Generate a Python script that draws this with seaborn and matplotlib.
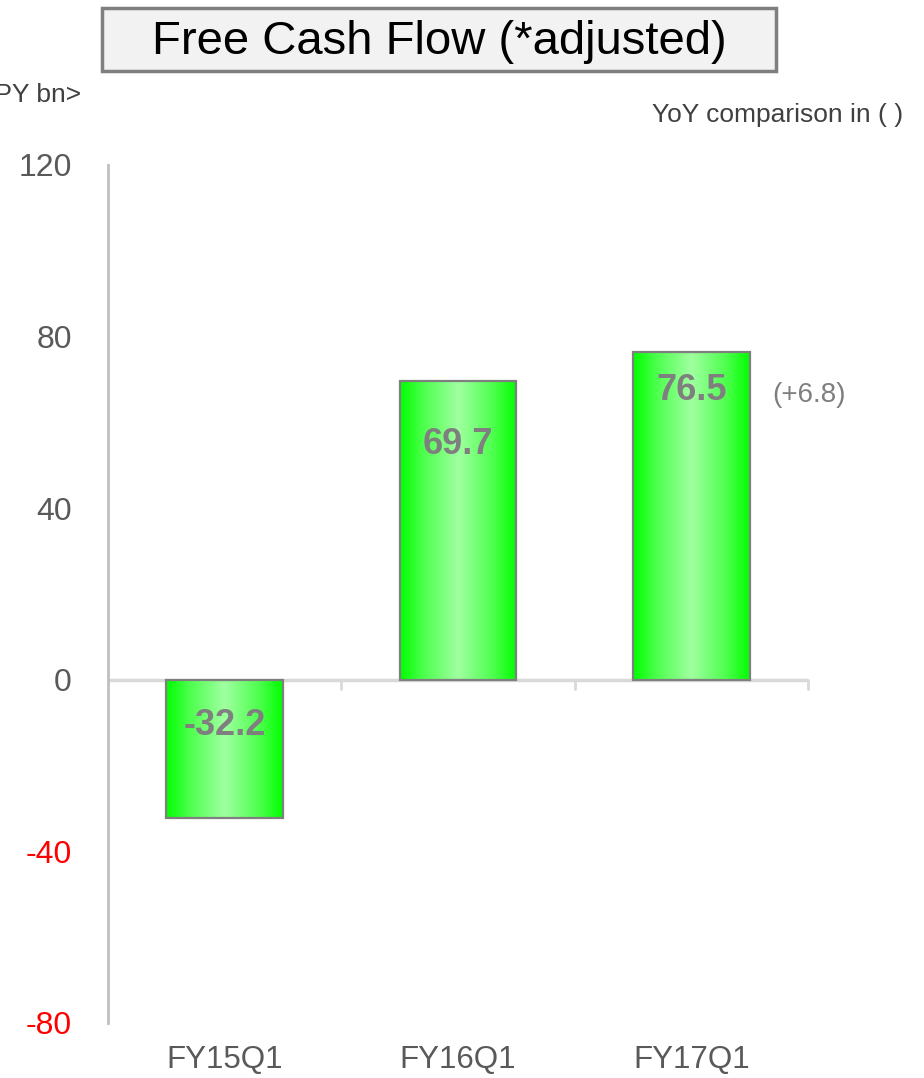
import numpy as np
import matplotlib
matplotlib.use("Agg")
import matplotlib.pyplot as plt
import seaborn as sns
from matplotlib.colors import LinearSegmentedColormap
from matplotlib.patches import Rectangle
from matplotlib.transforms import blended_transform_factory

# Data
periods = ["FY15Q1", "FY16Q1", "FY17Q1"]
free_cash_flow = [-32.2, 69.7, 76.5]
yoy_note = "(+6.8)"
y_ticks = [-80, -40, 0, 40, 80, 120]

sns.set_theme(style="white")
plt.rcParams["font.family"] = ["Liberation Sans", "DejaVu Sans"]

W, H = 924, 1078
fig = plt.figure(figsize=(W / 100, H / 100), dpi=100)
ax = fig.add_axes([108 / W, 55 / H, 700 / W, 858 / H])

sns.barplot(x=periods, y=free_cash_flow, width=0.5, color="#66ff66",
            edgecolor="#7f7f7f", linewidth=1.6, ax=ax, zorder=3)

ax.set_xlim(-0.5, 2.5)
ax.set_ylim(-80, 120)

# Horizontal green gradient inside each bar
grad_cmap = LinearSegmentedColormap.from_list(
    "bar_grad", [(0.0, "#00ff00"), (0.2, "#4dff4d"), (0.5, "#a0ffa0"),
                 (0.8, "#4dff4d"), (1.0, "#00ff00")])
grad = np.linspace(0, 1, 256).reshape(1, -1)
for p in ax.patches:
    x0, y0 = p.get_x(), p.get_y()
    w, h = p.get_width(), p.get_height()
    ylo, yhi = sorted([y0, y0 + h])
    im = ax.imshow(grad, cmap=grad_cmap, aspect="auto",
                   extent=[x0, x0 + w, ylo, yhi], zorder=2,
                   interpolation="bilinear")
    im.set_clip_path(p)
    p.set_facecolor("none")
ax.set_xlim(-0.5, 2.5)
ax.set_ylim(-80, 120)

# Value labels inside bars (pixel offsets below the top/zero edge)
label_offsets = [46, 64, 39]
for i, v in enumerate(free_cash_flow):
    edge = max(v, 0)
    ax.annotate(f"{v:.1f}", xy=(i, edge), xytext=(0, -label_offsets[i] * 0.72),
                textcoords="offset points", ha="center", va="center",
                fontsize=26, fontweight="bold", color="#7f7f7f", zorder=5)

ax.annotate(yoy_note, xy=(2, free_cash_flow[2]), xytext=(58, -31),
            textcoords="offset points", ha="left", va="center",
            fontsize=20, color="#7f7f7f")

# Axes styling
for s in ["top", "right", "bottom"]:
    ax.spines[s].set_visible(False)
ax.spines["left"].set_color("#bfbfbf")
ax.spines["left"].set_linewidth(2)
ax.axhline(0, color="#d9d9d9", lw=2.5, zorder=1)
tr = blended_transform_factory(ax.transData, ax.transAxes)
zero_frac = (0 - (-80)) / 200
for b in [0.5, 1.5, 2.5]:
    ax.plot([b, b], [zero_frac, zero_frac - 9 / 858], transform=tr,
            color="#d9d9d9", lw=2, clip_on=False, zorder=1)

ax.set_yticks(y_ticks)
ax.set_yticklabels([str(t) for t in y_ticks])
for lab, t in zip(ax.get_yticklabels(), y_ticks):
    lab.set_color("red" if t < 0 else "#595959")
ax.tick_params(axis="y", length=0, pad=26, labelsize=23)
ax.tick_params(axis="x", length=0, pad=16, labelsize=22.5, labelcolor="#595959")
ax.set_xlabel("")
ax.set_ylabel("")
ax.grid(False)

# Title box
fig.patches.append(Rectangle((102 / W, 1 - 71 / H), 674 / W, 63 / H,
                             transform=fig.transFigure, facecolor="#f2f2f2",
                             edgecolor="#7f7f7f", linewidth=2.5))
fig.text(439 / W, 1 - 42 / H, "Free Cash Flow (*adjusted)", ha="center",
         va="center", fontsize=34, color="#000000")

fig.text(81 / W, 1 - 95 / H, "<JPY bn>", ha="right", va="center",
         fontsize=19, color="#404040")
fig.text(903 / W, 1 - 115 / H, "YoY comparison in ( )", ha="right",
         va="center", fontsize=19, color="#404040")

fig.savefig("out.png", dpi=100)
